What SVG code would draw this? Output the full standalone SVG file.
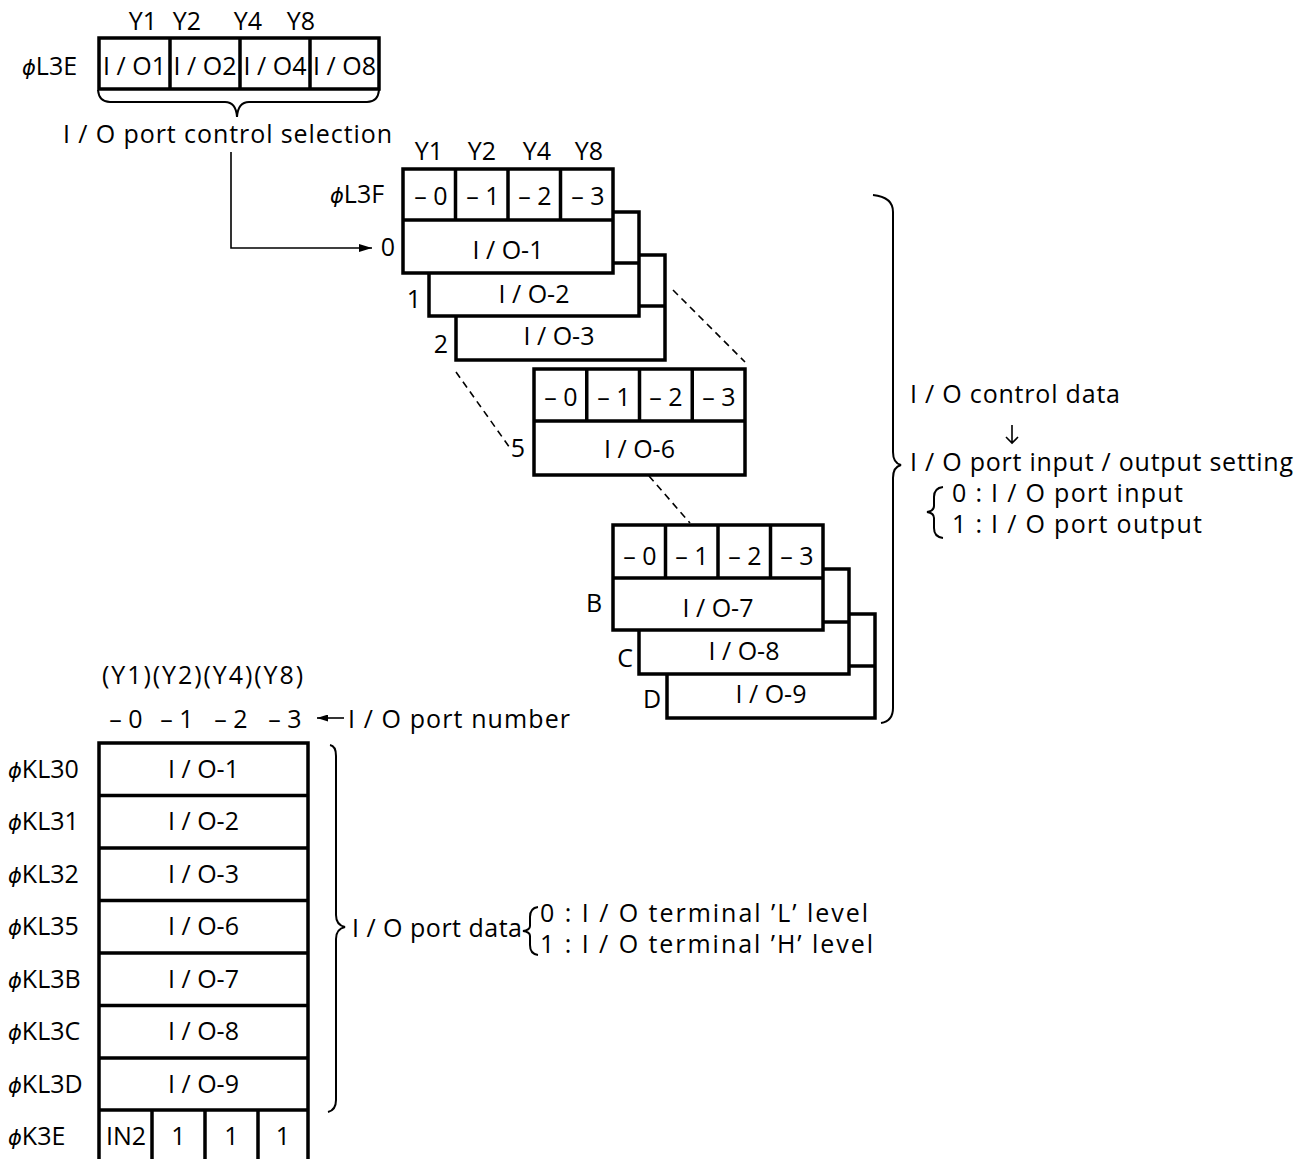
<svg xmlns="http://www.w3.org/2000/svg" width="1311" height="1159" viewBox="0 0 1311 1159">
<style>
.bx{fill:#fff;stroke:#000;stroke-width:3.5}
.ln{fill:none;stroke:#000;stroke-width:3.5}
.t{font-family:"Open Sans","Noto Sans","DejaVu Sans",sans-serif;font-size:25px;font-weight:500;fill:#000}
.m{text-anchor:middle}
.ph{font-family:"DejaVu Sans",sans-serif;font-style:oblique;font-weight:normal;font-size:21px}
.thin{fill:none;stroke:#000;stroke-width:1.6}
.dash{fill:none;stroke:#000;stroke-width:1.6;stroke-dasharray:7 5}
.br{fill:none;stroke:#000;stroke-width:2}
</style>
<defs>
<marker id="ah" markerUnits="userSpaceOnUse" markerWidth="13" markerHeight="8" refX="13" refY="4" orient="auto">
<path d="M0,0 L13,4 L0,8 z" fill="#000"/>
</marker>
<marker id="ah2" markerUnits="userSpaceOnUse" markerWidth="11" markerHeight="7" refX="11" refY="3.5" orient="auto">
<path d="M0,0 L11,3.5 L0,7 z" fill="#000"/>
</marker>
</defs>
<rect width="1311" height="1159" fill="#fff"/>

<g id="L3E">
<text class="t m" x="143" y="30">Y1</text>
<text class="t m" x="187" y="30">Y2</text>
<text class="t m" x="248" y="30">Y4</text>
<text class="t m" x="301" y="30">Y8</text>
<text class="t" x="22" y="75"><tspan class="ph">ϕ</tspan>L3E</text>
<rect class="bx" x="99" y="38" width="280" height="51"/>
<path class="ln" d="M170 38V89M240 38V89M310 38V89"/>
<text class="t m" x="134.5" y="75">I / O1</text>
<text class="t m" x="205" y="75">I / O2</text>
<text class="t m" x="275" y="75">I / O4</text>
<text class="t m" x="344.5" y="75">I / O8</text>
<path class="br" d="M98 90 Q99 102 110 102 L225 102 Q236 102 237 117 Q238 102 249 102 L367 102 Q378 102 379 90"/>
<text class="t" x="63" y="143" textLength="329" lengthAdjust="spacing">I / O port control selection</text>
</g>

<g id="L3F">
<text class="t m" x="429" y="160">Y1</text>
<text class="t m" x="482" y="160">Y2</text>
<text class="t m" x="537" y="160">Y4</text>
<text class="t m" x="589" y="160">Y8</text>
<text class="t" x="330" y="203"><tspan class="ph">ϕ</tspan>L3F</text>
<rect class="bx" x="456" y="255" width="209" height="105"/>
<path class="ln" d="M456 306H665"/>
<rect class="bx" x="429" y="212" width="210" height="104"/>
<path class="ln" d="M429 263H639"/>
<rect class="bx" x="403" y="169" width="210" height="104"/>
<path class="ln" d="M403 220H613M455.5 169V220M508 169V220M560.5 169V220"/>
<text class="t m" x="431" y="205">– 0</text>
<text class="t m" x="483" y="205">– 1</text>
<text class="t m" x="535" y="205">– 2</text>
<text class="t m" x="588" y="205">– 3</text>
<text class="t m" x="508" y="259">I / O-1</text>
<text class="t m" x="534" y="303">I / O-2</text>
<text class="t m" x="559" y="345">I / O-3</text>
<text class="t m" x="388" y="256">0</text>
<text class="t m" x="414" y="308">1</text>
<text class="t m" x="441" y="353">2</text>
</g>

<g id="L35">
<rect class="bx" x="534" y="369" width="211" height="106"/>
<path class="ln" d="M534 421H745M586.75 369V421M639.5 369V421M692.25 369V421"/>
<text class="t m" x="561" y="406">– 0</text>
<text class="t m" x="614" y="406">– 1</text>
<text class="t m" x="666" y="406">– 2</text>
<text class="t m" x="719" y="406">– 3</text>
<text class="t m" x="639.5" y="458">I / O-6</text>
<text class="t m" x="518" y="457">5</text>
</g>

<g id="L3B">
<rect class="bx" x="667" y="614" width="208" height="104"/>
<path class="ln" d="M667 666H875"/>
<rect class="bx" x="639" y="569" width="210" height="105"/>
<path class="ln" d="M639 622H849"/>
<rect class="bx" x="613" y="525" width="210" height="105"/>
<path class="ln" d="M613 578H823M665.5 525V578M718 525V578M770.5 525V578"/>
<text class="t m" x="640" y="565">– 0</text>
<text class="t m" x="692" y="565">– 1</text>
<text class="t m" x="745" y="565">– 2</text>
<text class="t m" x="797" y="565">– 3</text>
<text class="t m" x="718" y="617">I / O-7</text>
<text class="t m" x="744" y="660">I / O-8</text>
<text class="t m" x="771" y="703">I / O-9</text>
<text class="t m" x="594" y="612">B</text>
<text class="t m" x="625" y="667">C</text>
<text class="t m" x="652" y="708">D</text>
</g>

<g id="control-note">
<path class="br" d="M873 195 Q893 197 893 212 L893 452 Q893 463 901 465 Q893 467 893 478 L893 708 Q893 721 881 723"/>
<text class="t" x="910" y="403" textLength="210" lengthAdjust="spacing">I / O control data</text>
<text class="t" x="910" y="471" textLength="383" lengthAdjust="spacing">I / O port input / output setting</text>
<path class="br" d="M943 487 Q934 488 934 497 L934 506 Q934 511 927 512 Q934 513 934 518 L934 528 Q934 537 943 538"/>
<text class="t" x="952" y="502" textLength="231" lengthAdjust="spacing">0 : I / O port input</text>
<text class="t" x="952" y="533" textLength="250" lengthAdjust="spacing">1 : I / O port output</text>
</g>

<g id="KL3">
<text class="t" x="102" y="684" textLength="201" lengthAdjust="spacing">(Y1)(Y2)(Y4)(Y8)</text>
<text class="t m" x="126" y="728">– 0</text>
<text class="t m" x="177" y="728">– 1</text>
<text class="t m" x="231" y="728">– 2</text>
<text class="t m" x="285" y="728">– 3</text>
<text class="t" x="348" y="728" textLength="222" lengthAdjust="spacing">I / O port number</text>
<path class="ln" d="M99 743H308M99 741.25V1159M308 741.25V1159M99 795.5H308M99 848H308M99 900.5H308M99 953H308M99 1005.5H308M99 1058H308M99 1110H308M152 1110V1159M205 1110V1159M258 1110V1159"/>
<text class="t m" x="203.5" y="778">I / O-1</text>
<text class="t m" x="203.5" y="830">I / O-2</text>
<text class="t m" x="203.5" y="883">I / O-3</text>
<text class="t m" x="203.5" y="935">I / O-6</text>
<text class="t m" x="203.5" y="988">I / O-7</text>
<text class="t m" x="203.5" y="1040">I / O-8</text>
<text class="t m" x="203.5" y="1093">I / O-9</text>
<text class="t m" x="126" y="1145">IN2</text>
<text class="t m" x="178.5" y="1145">1</text>
<text class="t m" x="231.5" y="1145">1</text>
<text class="t m" x="283" y="1145">1</text>
<text class="t" x="8" y="778"><tspan class="ph">ϕ</tspan>KL30</text>
<text class="t" x="8" y="830"><tspan class="ph">ϕ</tspan>KL31</text>
<text class="t" x="8" y="883"><tspan class="ph">ϕ</tspan>KL32</text>
<text class="t" x="8" y="935"><tspan class="ph">ϕ</tspan>KL35</text>
<text class="t" x="8" y="988"><tspan class="ph">ϕ</tspan>KL3B</text>
<text class="t" x="8" y="1040"><tspan class="ph">ϕ</tspan>KL3C</text>
<text class="t" x="8" y="1093"><tspan class="ph">ϕ</tspan>KL3D</text>
<text class="t" x="8" y="1145"><tspan class="ph">ϕ</tspan>K3E</text>
</g>

<g id="data-note">
<path class="br" d="M330 745 Q336 746 336 756 L336 915 Q336 925 345 927 Q336 929 336 939 L336 1100 Q336 1110 328 1112"/>
<text class="t" x="352" y="937" textLength="170" lengthAdjust="spacing">I / O port data</text>
<path class="br" d="M538 907 Q530 908 530 917 L530 926 Q530 930 523 931 Q530 932 530 936 L530 945 Q530 954 538 955"/>
<text class="t" x="540" y="922" textLength="328" lengthAdjust="spacing">0 : I / O terminal ’L’ level</text>
<text class="t" x="540" y="953" textLength="333" lengthAdjust="spacing">1 : I / O terminal ’H’ level</text>
</g>

<g id="connectors">
<path class="thin" d="M231 152V248H372" marker-end="url(#ah)"/>
<path class="thin" d="M344 718H317" marker-end="url(#ah2)"/>
<path class="thin" d="M1012 425V443M1006 437L1012 443L1018 437"/>
<path class="dash" d="M673 290L745 362"/>
<path class="dash" d="M456 372L510 448"/>
<path class="dash" d="M649 476L690 523"/>
</g>
</svg>
